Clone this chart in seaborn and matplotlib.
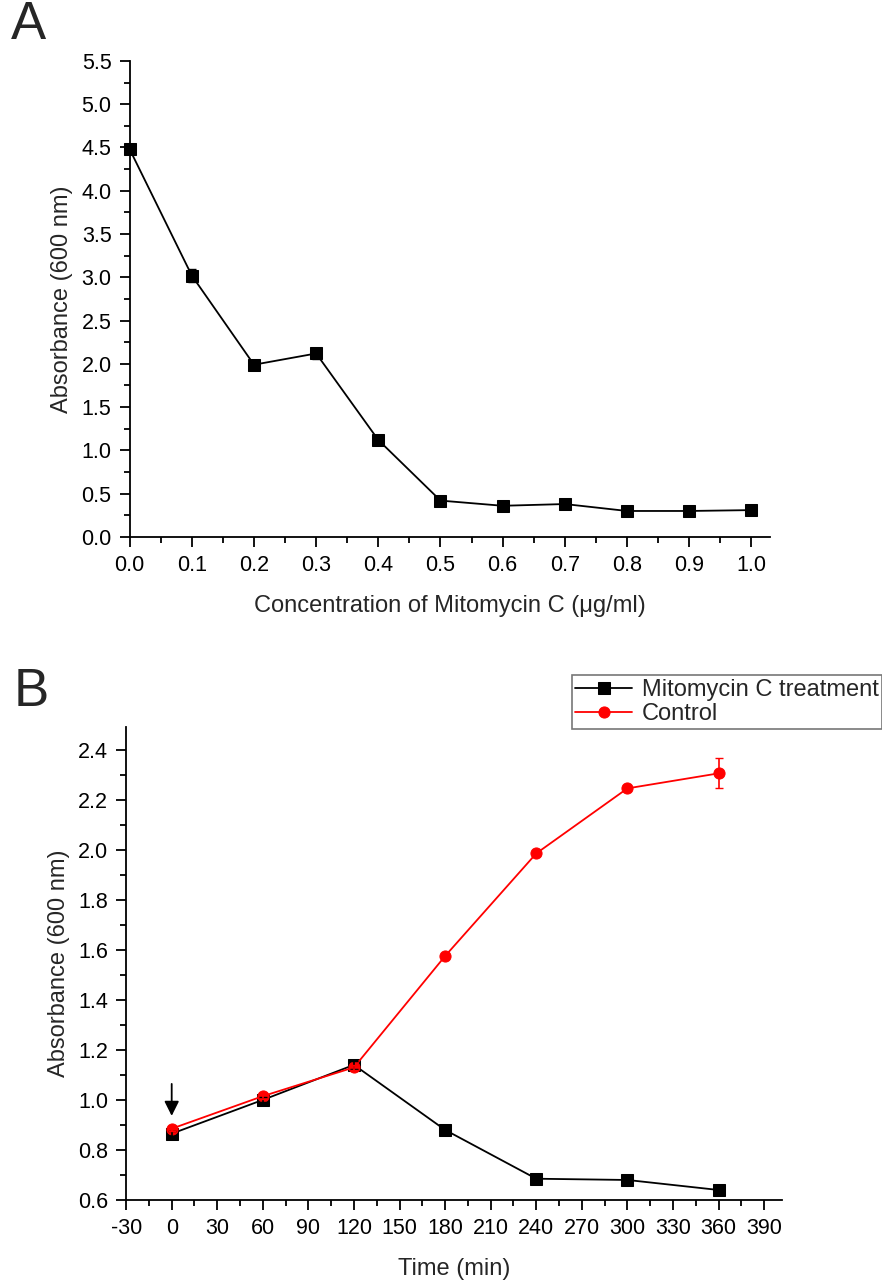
import numpy as np
import pandas as pd
import matplotlib
matplotlib.use("Agg")
import matplotlib.pyplot as plt
import seaborn as sns
from matplotlib.ticker import MultipleLocator, FormatStrFormatter

sns.set_theme(style="ticks")
plt.rcParams['font.family'] = ['Liberation Sans', 'DejaVu Sans']
plt.rcParams['axes.unicode_minus'] = False

# Panel A data
conc = [0.0, 0.1, 0.2, 0.3, 0.4, 0.5, 0.6, 0.7, 0.8, 0.9, 1.0]
abs_a = [4.48, 3.02, 1.99, 2.12, 1.12, 0.42, 0.36, 0.38, 0.30, 0.30, 0.31]
err_a = [0.03, 0.08, 0.04, 0.06, 0.03, 0.02, 0.02, 0.02, 0.02, 0.02, 0.02]

# Panel B data
time = [0, 60, 120, 180, 240, 300, 360]
treat = [0.865, 1.0, 1.14, 0.88, 0.685, 0.68, 0.64]
treat_err = [0.01, 0.01, 0.015, 0.02, 0.015, 0.015, 0.01]
control = [0.885, 1.015, 1.13, 1.575, 1.985, 2.245, 2.305]
control_err = [0.01, 0.01, 0.01, 0.01, 0.01, 0.01, 0.06]

TICK_FS = 15.5
LABEL_FS = 17

fig = plt.figure(figsize=(8.82, 12.83), dpi=100)

def style_axes(ax):
    for s in ['top', 'right']:
        ax.spines[s].set_visible(False)
    for s in ['left', 'bottom']:
        ax.spines[s].set_linewidth(1.3)
        ax.spines[s].set_color('black')
    ax.tick_params(which='major', direction='out', length=7, width=1.3,
                   labelsize=TICK_FS, colors='black', pad=6)
    ax.tick_params(which='minor', direction='out', length=4, width=1.3, colors='black')
    for ln in ax.lines:
        ln.set_clip_on(False)

# Panel A
axA = fig.add_axes([0.147, 0.5815, 0.726, 0.371])
dfA = pd.DataFrame({'conc': conc, 'abs': abs_a})
sns.lineplot(data=dfA, x='conc', y='abs', ax=axA, color='black', marker='s',
             markersize=8, markeredgecolor='black', linewidth=1.3)
axA.errorbar(conc, abs_a, yerr=err_a, fmt='none', ecolor='black', elinewidth=1.2, capsize=3)
axA.set_xlim(0, 1.03)
axA.set_ylim(0, 5.5)
axA.xaxis.set_major_locator(MultipleLocator(0.1))
axA.xaxis.set_minor_locator(MultipleLocator(0.05))
axA.yaxis.set_major_locator(MultipleLocator(0.5))
axA.yaxis.set_minor_locator(MultipleLocator(0.25))
axA.xaxis.set_major_formatter(FormatStrFormatter('%.1f'))
axA.yaxis.set_major_formatter(FormatStrFormatter('%.1f'))
axA.set_xlabel('Concentration of Mitomycin C (\u03bcg/ml)', fontsize=LABEL_FS, labelpad=14)
axA.set_ylabel('Absorbance (600 nm)', fontsize=LABEL_FS, labelpad=6)
style_axes(axA)
fig.text(0.012, 0.9805, 'A', fontsize=38, ha='left', va='center')

# Panel B
axB = fig.add_axes([0.143, 0.0647, 0.744, 0.3686])
dfB = pd.DataFrame({
    'time': time * 2,
    'abs': treat + control,
    'group': ['Mitomycin C treatment'] * len(time) + ['Control'] * len(time),
})
sns.lineplot(data=dfB, x='time', y='abs', hue='group', style='group', ax=axB,
             palette={'Mitomycin C treatment': 'black', 'Control': 'red'},
             markers={'Mitomycin C treatment': 's', 'Control': 'o'},
             dashes=False, markersize=8, linewidth=1.3)
for ln in axB.lines:
    ln.set_markeredgecolor(ln.get_color())
axB.errorbar(time, treat, yerr=treat_err, fmt='none', ecolor='black', elinewidth=1.2, capsize=3)
axB.errorbar(time, control, yerr=control_err, fmt='none', ecolor='red', elinewidth=1.2, capsize=3)
axB.set_xlim(-30, 402)
axB.set_ylim(0.6, 2.49)
axB.xaxis.set_major_locator(MultipleLocator(30))
axB.xaxis.set_minor_locator(MultipleLocator(15))
axB.yaxis.set_major_locator(MultipleLocator(0.2))
axB.yaxis.set_minor_locator(MultipleLocator(0.1))
axB.yaxis.set_major_formatter(FormatStrFormatter('%.1f'))
axB.set_xlabel('Time (min)', fontsize=LABEL_FS, labelpad=14)
axB.set_ylabel('Absorbance (600 nm)', fontsize=LABEL_FS, labelpad=6)
style_axes(axB)
axB.annotate('', xy=(0, 0.925), xytext=(0, 1.075),
             arrowprops=dict(arrowstyle='-|>', color='black', lw=1.3, mutation_scale=22))

handles, labels = axB.get_legend_handles_labels()
if axB.get_legend():
    axB.get_legend().remove()
leg = fig.legend(handles, labels, loc='upper right', bbox_to_anchor=(1.0, 0.4735),
                 fontsize=LABEL_FS, frameon=True, fancybox=False, borderpad=0.15,
                 handlelength=2.4, handletextpad=0.4, labelspacing=0.1, borderaxespad=0)
leg.get_frame().set_edgecolor('#555555')
leg.get_frame().set_linewidth(1.2)
fig.text(0.015, 0.4606, 'B', fontsize=38, ha='left', va='center')

fig.savefig('out.png', dpi=100, facecolor='white')
